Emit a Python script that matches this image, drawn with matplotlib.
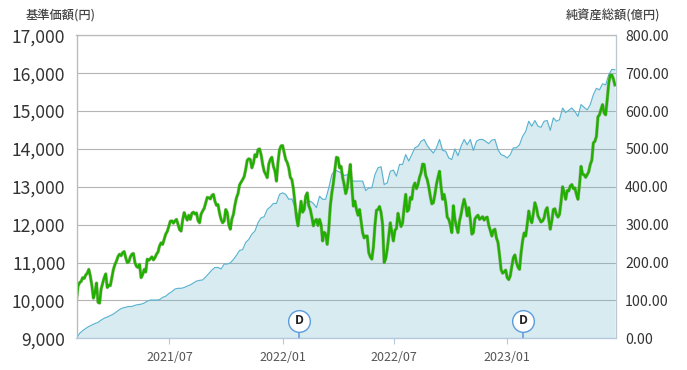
import matplotlib
matplotlib.use("Agg")
import matplotlib.dates as mdates
import matplotlib.patheffects as pe
import matplotlib.pyplot as plt
import numpy as np

plt.rcParams["font.family"] = ["Noto Sans CJK JP", "DejaVu Sans"]

# one reading every 5 days
start_date = np.datetime64("2021-01-31T00")
end_date = np.datetime64("2023-06-26T00")

nav = [
    10000, 10470, 10600, 10670, 10820, 10390, 10210, 9950, 10300, 10600,
    10340, 10390, 10820, 11040, 11220, 11260, 11130, 11020, 11220, 11000,
    10870, 10600, 10820, 11090, 11100, 11070, 11220, 11440, 11480, 11750,
    11960, 12100, 12100, 12010, 11830, 12320, 12120, 12140, 12330, 12310,
    12050, 12360, 12580, 12710, 12770, 12620, 12530, 12140, 12100, 12320,
    11880, 12270, 12710, 13050, 13190, 13460, 13740, 13500, 13850, 13980,
    13850, 13410, 13240, 13720, 13540, 13150, 13980, 14090, 13720, 13500,
    13190, 12580, 11970, 12620, 12400, 12840, 12400, 11970, 12140, 12140,
    11570, 11750, 11880, 12840, 13460, 13760, 13540, 13060, 12970, 13590,
    12490, 12400, 12400, 11790, 11700, 11260, 11090, 11970, 12400, 12320,
    11000, 11350, 12050, 11570, 11900, 12100, 12050, 12800, 12400, 12670,
    13100, 13060, 13370, 13590, 13190, 12750, 12580, 13060, 13410, 12670,
    12580, 12140, 11790, 12140, 11790, 12270, 12670, 12230, 12140, 11790,
    12210, 12140, 12210, 12180, 11980, 11700, 11880, 11530, 10820, 10750,
    10600, 10650, 11130, 11000, 10820, 11570, 11700, 12360, 12050, 12580,
    12230, 12070, 12180, 12450, 11880, 12400, 12270, 12270, 13000, 12670,
    12890, 13060, 12970, 12670, 13540, 13320, 13320, 13590, 14160, 14330,
    14900, 15170, 14900, 15740, 15950, 15690,
]
# the readings that fall between two of the above
nav_mid = [
    10380, 10500, 10580, 10720, 10640, 10060, 10460, 9930, 10450, 10700,
    10400, 10600, 10950, 11160, 11180, 11290, 11000, 11150, 11240, 10900,
    10950, 10680, 10750, 11060, 11150, 11130, 11280, 11520, 11620, 11820,
    12090, 12040, 12140, 11870, 12120, 12210, 12250, 12300, 12280, 12110,
    12280, 12430, 12720, 12680, 12800, 12510, 12300, 12050, 12400, 12000,
    12150, 12520, 12820, 13120, 13270, 13700, 13720, 13620, 13790, 14000,
    13600, 13330, 13600, 13780, 13420, 13650, 14080, 13900, 13640, 13250,
    12950, 12200, 12300, 12330, 12750, 12500, 12200, 12100, 11980, 12000,
    11800, 11480, 12500, 13100, 13780, 13500, 13250, 12820, 13300, 13000,
    12620, 12250, 12100, 11650, 11700, 11150, 11400, 12380, 12480, 12000,
    11100, 11700, 11800, 11850, 12300, 11950, 12450, 12350, 12720, 13000,
    12950, 13250, 13600, 13300, 13000, 12550, 12800, 13250, 13000, 12800,
    12200, 12000, 12500, 11950, 12100, 12500, 12500, 12450, 11750, 12150,
    12250, 12170, 12120, 12200, 11850, 11850, 11650, 11200, 10720, 10800,
    10550, 10900, 11200, 10880, 11250, 11780, 12000, 12150, 12300, 12450,
    12150, 12100, 12380, 12150, 12100, 12420, 12200, 12600, 12850, 12900,
    13020, 12950, 12800, 13050, 13330, 13250, 13400, 13700, 14200, 14850,
    15050, 14950, 15300, 15950, 15850,
]
assets = [
    0, 13, 20, 26, 31, 35, 39, 42, 48, 53,
    56, 60, 64, 70, 76, 80, 82, 84, 84, 87,
    89, 90, 93, 98, 101, 101, 101, 102, 108, 111,
    118, 123, 130, 132, 132, 134, 138, 141, 146, 151,
    153, 154, 162, 171, 180, 187, 187, 183, 196, 196,
    199, 208, 219, 232, 234, 253, 261, 275, 283, 305,
    318, 321, 340, 347, 356, 356, 380, 384, 380, 367,
    368, 347, 321, 336, 354, 360, 362, 356, 345, 375,
    367, 367, 397, 432, 444, 441, 437, 430, 432, 421,
    415, 415, 415, 415, 390, 397, 397, 432, 450, 453,
    406, 410, 441, 444, 428, 459, 459, 485, 468, 485,
    503, 507, 520, 525, 509, 498, 489, 503, 525, 496,
    494, 476, 472, 500, 482, 507, 525, 511, 525, 496,
    520, 525, 525, 520, 514, 523, 525, 498, 485, 482,
    476, 485, 503, 503, 511, 533, 546, 573, 560, 575,
    560, 557, 573, 575, 549, 582, 573, 577, 608, 596,
    602, 608, 599, 586, 617, 610, 603, 617, 643, 660,
    656, 672, 669, 696, 710, 709,
]

left_ticks = [9000, 10000, 11000, 12000, 13000, 14000, 15000, 16000, 17000]
right_ticks = [0, 100, 200, 300, 400, 500, 600, 700, 800]
month_ticks = ["2021-07-01", "2022-01-01", "2022-07-01", "2023-01-01"]
dist_dates = ["2022-01-28", "2023-01-27"]
dist_marker_level = 46

W, H = 687, 370
fig = plt.figure(figsize=(W / 100, H / 100), dpi=100)
ax = fig.add_axes([76.5 / W, (H - 338.3) / H, 539 / W, 303 / H])
ax2 = ax.twinx()
ax.set_zorder(ax2.get_zorder() + 1)
ax.patch.set_visible(False)

dates = start_date + np.arange(len(assets)) * np.timedelta64(120, "h")

# net assets sit behind, with the grid showing through the fill
ax2.fill_between(dates, assets, 0, color="#63b3cb", alpha=0.25, lw=0, zorder=2)
ax2.plot(dates, assets, color="#5bb3d0", lw=0.85, zorder=3)
ax2.set_ylim(0, 800)
ax2.set_yticks(right_ticks)
ax2.set_yticklabels([f"{v:.2f}" for v in right_ticks], fontsize=10.2, color="#333333")
ax2.tick_params(axis="y", length=0, pad=7)
ax2.set_axisbelow(True)
ax2.grid(axis="y", color="#b4b4b4", lw=0.8)

nav_all = np.empty(len(nav) + len(nav_mid))
nav_all[0::2] = nav
nav_all[1::2] = nav_mid
nav_dates = start_date + np.arange(len(nav_all)) * np.timedelta64(60, "h")
ax.plot(
    nav_dates, nav_all, color="#22b000", lw=1.75, solid_joinstyle="round", zorder=4,
    path_effects=[pe.withStroke(linewidth=2.5, foreground="#8a8a70", alpha=0.5)],
)
ax.set_ylim(9000, 17000)
ax.set_yticks(left_ticks)
ax.set_yticklabels([f"{v:,}" for v in left_ticks], fontsize=12.6, color="#333333")
ax.tick_params(axis="y", length=0, pad=8)

ax.set_xlim(start_date, end_date)
ax.set_xticks(np.array(month_ticks, dtype="datetime64[h]"))
ax.xaxis.set_major_formatter(mdates.DateFormatter("%Y/%m"))
ax.tick_params(axis="x", length=4, width=0.8, color="#b5c8de", labelsize=9,
               labelcolor="#555555", pad=5)

# distribution markers live on the asset axis so their height is a value
dist_x = np.array(dist_dates, dtype="datetime64[h]")
ax3 = ax.twinx()
ax3.set_zorder(ax.get_zorder() + 1)
ax3.patch.set_visible(False)
ax3.set_ylim(0, 800)
ax3.set_yticks([])
ax3.vlines(dist_x, 0, dist_marker_level, color="#6ea6dc", lw=1.3, zorder=5)
ax3.plot(dist_x, [dist_marker_level] * 2, "o", ms=15.6, mfc="white", mec="#5b9bdc",
         mew=1.0, zorder=6, clip_on=False)
for d in dist_x:
    ax3.text(d, dist_marker_level, "D", ha="center", va="center", fontsize=9,
             fontweight="bold", color="#222222", zorder=7)

for a in (ax, ax2, ax3):
    for side, color in [("left", "#bbbbbb"), ("top", "#bbbbbb"),
                        ("right", "#bcc8d0"), ("bottom", "#b5c8de")]:
        a.spines[side].set_color(color)
        a.spines[side].set_linewidth(0.8)

fig.text(26 / W, (H - 15.5) / H, "基準価額(円)", fontsize=8.8, color="#444444",
         ha="left", va="center", fontweight="medium")
fig.text(660 / W, (H - 15.5) / H, "純資産総額(億円)", fontsize=8.8, color="#444444",
         ha="right", va="center", fontweight="medium")

fig.savefig("out.png", dpi=100)
